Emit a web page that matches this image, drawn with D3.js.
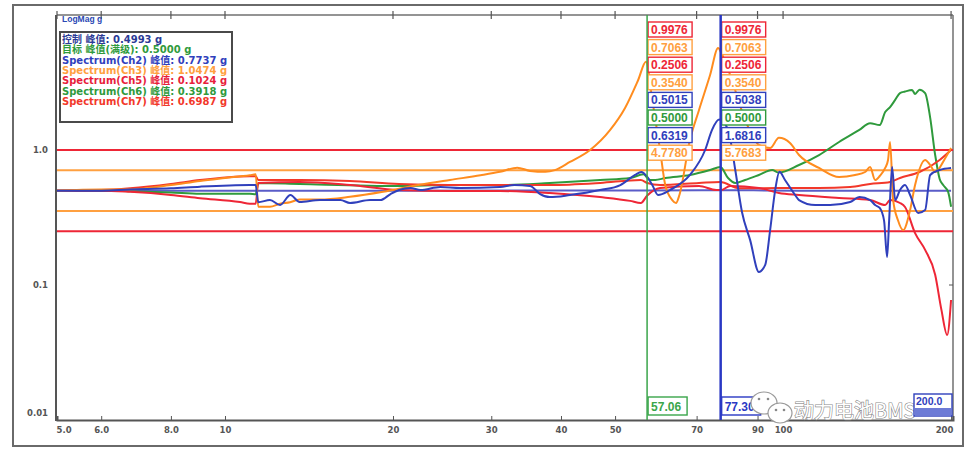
<!DOCTYPE html>
<html><head><meta charset="utf-8">
<script src="https://cdn.jsdelivr.net/npm/d3@7"></script>
<style>html,body{margin:0;padding:0;background:#fff;} svg{display:block;}</style>
</head><body>
<svg id="chart" width="969" height="453"></svg>
<script>
// ---------------- DATA ----------------
const xTicks = [5, 6, 8, 10, 20, 30, 40, 50, 70, 90, 100, 200];
const xTickLabels = ["5.0", "6.0", "8.0", "10", "20", "30", "40", "50", "70", "90", "100", "200"];
const yTicks = [1, 0.1, 0.01];
const yTickLabels = ["1.0", "0.1", "0.01"];

const limitValues = [1.0, 0.7079, 0.354, 0.25];
const limitNames = ["abortHigh", "alarmHigh", "alarmLow", "abortLow"];

const controlFreq = [5, 11.47, 20.5, 57.06, 77.3, 106.8, 200];
const controlValues = [0.5, 0.5, 0.5, 0.5015, 0.5038, 0.5, 0.5];

const ch3Freq = [5.0, 6.0, 6.76, 8.0, 9.02, 10, 11.08, 11.35, 11.47, 12.04, 12.55, 13.08, 13.6, 14.8, 16.75, 19.2, 22.2, 25.3, 28.7, 31.1, 33.4, 35.2, 37.5, 39.0, 41.5, 45.1, 49.0, 52.1, 55.0, 56.8, 58.3, 60.2, 61.5, 63.3, 64.3, 65.2, 68.1, 70.7, 74.0, 76.5, 77.4, 80.4, 85.5, 90.5, 94.8, 98.3, 102.9, 106.8, 116, 126, 134.6, 140.3, 143.2, 146.2, 149, 152.4, 154.2, 155.5, 157.5, 160.6, 164.1, 168.9, 172.4, 179.7, 183.5, 187.3, 195.2, 200];
const ch3Values = [0.50, 0.51, 0.51, 0.55, 0.59, 0.62, 0.65, 0.66, 0.38, 0.38, 0.40, 0.41, 0.43, 0.43, 0.45, 0.49, 0.55, 0.60, 0.65, 0.69, 0.74, 0.70, 0.69, 0.71, 0.815, 1.0, 1.41, 2.05, 3.30, 4.5, 2.35, 1.0, 0.55, 0.426, 0.405, 0.464, 1.19, 1.98, 3.59, 5.70, 5.3, 3.59, 1.67, 1.09, 1.035, 1.23, 1.127, 0.918, 0.736, 0.631, 0.653, 0.687, 0.748, 0.599, 0.642, 0.736, 0.843, 1.146, 0.426, 0.303, 0.255, 0.359, 0.55, 0.843, 0.774, 0.687, 0.87, 1.035];

const ch2Freq = [5, 6.0, 6.76, 8, 9.02, 11.08, 11.35, 11.47, 12.04, 12.55, 13.1, 13.6, 14.8, 16.1, 16.75, 18.2, 19.0, 19.8, 20.5, 21.5, 22.4, 24.3, 26.4, 31.1, 33.0, 35.2, 36.7, 38.2, 41.5, 47, 51.1, 54.3, 55.7, 57.1, 58.3, 59.7, 62.7, 68.1, 72.5, 74.6, 76.8, 79.7, 82.1, 84.4, 87.3, 90.5, 92.9, 94.8, 96.8, 98.5, 100.8, 105.1, 106.8, 114.2, 121.4, 131.9, 137, 143.2, 146.2, 149, 151.7, 153.6, 154.9, 156.8, 158.8, 162, 165.4, 168.9, 174.6, 179.7, 183.5, 190.8, 200];
const ch2Values = [0.50, 0.50, 0.51, 0.52, 0.535, 0.55, 0.55, 0.41, 0.426, 0.391, 0.464, 0.412, 0.426, 0.426, 0.405, 0.426, 0.426, 0.472, 0.505, 0.523, 0.505, 0.532, 0.523, 0.532, 0.55, 0.541, 0.472, 0.448, 0.464, 0.505, 0.55, 0.653, 0.687, 0.632, 0.55, 0.464, 0.505, 0.653, 1.0, 1.41, 1.68, 1.41, 0.711, 0.347, 0.215, 0.125, 0.141, 0.255, 0.505, 0.69, 0.60, 0.464, 0.426, 0.391, 0.391, 0.412, 0.448, 0.426, 0.391, 0.372, 0.30, 0.161, 0.30, 0.748, 0.426, 0.505, 0.55, 0.464, 0.341, 0.359, 0.653, 0.711, 0.736];

const ch6Freq = [5, 6, 6.76, 8, 9.02, 11.08, 11.35, 11.47, 13.6, 20.5, 25.3, 31.1, 38.2, 47, 53.2, 56.2, 57.7, 59.0, 61.5, 68.1, 74.0, 77.2, 79.7, 82.1, 85.5, 90.5, 95.6, 98.3, 106.8, 116, 126, 137, 143.2, 149, 152.4, 155.5, 158.8, 162, 165.4, 170.3, 172.4, 175.6, 179.7, 183.5, 187.3, 190.8, 193.6, 197.6, 200];
const ch6Values = [0.50, 0.50, 0.495, 0.485, 0.475, 0.475, 0.47, 0.57, 0.56, 0.541, 0.55, 0.55, 0.57, 0.60, 0.62, 0.66, 0.60, 0.60, 0.62, 0.653, 0.711, 0.748, 0.62, 0.57, 0.60, 0.653, 0.711, 0.68, 0.774, 0.918, 1.146, 1.41, 1.58, 1.53, 1.91, 2.08, 2.35, 2.64, 2.71, 2.78, 2.6, 2.8, 2.64, 1.73, 0.918, 0.61, 0.55, 0.49, 0.38];

const ch5Freq = [5, 6, 6.76, 8, 9.02, 10.64, 11.08, 11.35, 11.47, 13.6, 16.75, 20.5, 25.3, 31.1, 38.2, 47, 53.2, 55.6, 57.1, 60.2, 70.7, 75.9, 77.4, 80.4, 90.5, 98.3, 106.8, 126, 143.2, 152.4, 155.5, 162, 165.4, 172.4, 179.7, 187.3, 192.2, 196.8, 200];
const ch5Values = [0.50, 0.50, 0.49, 0.465, 0.44, 0.412, 0.40, 0.40, 0.57, 0.58, 0.55, 0.505, 0.497, 0.497, 0.48, 0.448, 0.42, 0.405, 0.46, 0.523, 0.541, 0.505, 0.505, 0.541, 0.523, 0.48, 0.464, 0.441, 0.426, 0.391, 0.426, 0.405, 0.378, 0.242, 0.182, 0.119, 0.0654, 0.0426, 0.0774];

const ch7Freq = [5, 6, 6.76, 8, 9.02, 11.08, 11.35, 11.47, 13.6, 16.75, 20.5, 25.3, 31.1, 38.2, 47, 55.6, 57.1, 60.2, 70.7, 77.2, 83.4, 98.3, 116, 131.9, 143.2, 155.5, 162, 175.6, 190.8, 200];
const ch7Values = [0.50, 0.505, 0.52, 0.56, 0.60, 0.64, 0.64, 0.60, 0.60, 0.589, 0.56, 0.55, 0.55, 0.55, 0.57, 0.60, 0.57, 0.55, 0.57, 0.58, 0.52, 0.523, 0.523, 0.532, 0.56, 0.58, 0.62, 0.687, 0.843, 1.0];

const legendLabels = ["控制 峰值: 0.4993 g", "目标 峰值(满级): 0.5000 g", "Spectrum(Ch2) 峰值: 0.7737 g", "Spectrum(Ch3) 峰值: 1.0474 g", "Spectrum(Ch5) 峰值: 0.1024 g", "Spectrum(Ch6) 峰值: 0.3918 g", "Spectrum(Ch7) 峰值: 0.6987 g"];

const cursorFreqs = [57.06, 77.3];
const cursorFreqLabels = ["57.06", "77.30"];
const cursor1Labels = ["0.9976", "0.7063", "0.2506", "0.3540", "0.5015", "0.5000", "0.6319", "4.7780"];
const cursor2Labels = ["0.9976", "0.7063", "0.2506", "0.3540", "0.5038", "0.5000", "1.6816", "5.7683"];
const endFreqLabel = "200.0";

// ---------------- STYLE ----------------
const C = {
  red: "#ee2636", orange: "#ff8c1e", orangeLt: "#ffa040", blue: "#3040bc", navy: "#2b3a96",
  green: "#2f9a3c", red2: "#f2382a", ctrl: "#5a5cc8", frame: "#5a5a5a"
};
const limitColors = [C.red, C.orangeLt, C.orangeLt, C.red];
const legendColors = [C.navy, C.green, C.blue, C.orangeLt, "#e81e3c", C.green, C.red2];
const boxColors = [C.red, C.orangeLt, C.red, C.orangeLt, C.blue, C.green, C.blue, C.orangeLt];
const cursorColors = ["#3aa54a", "#2a38c4"];

const svg = d3.select("#chart");
const x = d3.scaleLog().domain([5, 201.6]).range([57, 953]);
const y = d3.scaleLog().domain([0.01, 10]).range([420, 15]);
const X0 = 57, X1 = 953, Y0 = 15, Y1 = 420;

// outer frame
svg.append("rect").attr("x", 13).attr("y", 5).attr("width", 950).attr("height", 441)
  .attr("fill", "#fff").attr("stroke", "#6a6a6a").attr("stroke-width", 2);

svg.append("defs").append("clipPath").attr("id", "clip")
  .append("rect").attr("x", X0).attr("y", Y0).attr("width", X1 - X0).attr("height", Y1 - Y0);

// plot frame lines
svg.append("line").attr("x1", X0).attr("x2", X1).attr("y1", Y0).attr("y2", Y0).attr("stroke", "#707070").attr("stroke-width", 1.5);
svg.append("line").attr("x1", X1).attr("x2", X1).attr("y1", Y0).attr("y2", Y1).attr("stroke", "#707070").attr("stroke-width", 1.5);

// top ticks
svg.append("g").selectAll("line").data(xTicks).join("line")
  .attr("x1", d => x(d)).attr("x2", d => x(d)).attr("y1", 11).attr("y2", 19)
  .attr("stroke", "#555").attr("stroke-width", 1.2);

// x axis
const xAxis = d3.axisBottom(x).tickValues(xTicks).tickSize(-4).tickPadding(7)
  .tickFormat((d, i) => xTickLabels[i]);
const gx = svg.append("g").attr("transform", `translate(0,${Y1})`).call(xAxis);
gx.select(".domain").attr("stroke", "#555").attr("stroke-width", 2);
gx.selectAll(".tick line").attr("stroke", "#555");
gx.selectAll(".tick text").attr("font-family", "DejaVu Sans, sans-serif").attr("font-size", 8.5)
  .attr("fill", "#555").attr("font-weight", "bold");
gx.selectAll(".tick text").filter((d, i) => i === 0).attr("text-anchor", "start").attr("dx", -1);
gx.selectAll(".tick text").filter((d, i) => i === xTicks.length - 1).attr("dx", -7);

// left axis line + y labels
svg.append("line").attr("x1", X0 - 1).attr("x2", X0 - 1).attr("y1", Y0).attr("y2", Y1 + 1)
  .attr("stroke", "#555").attr("stroke-width", 2);
svg.append("g").selectAll("text").data(yTicks).join("text")
  .attr("x", 48).attr("y", (d, i) => y(d) + 3 - (i === yTicks.length - 1 ? 7 : 0))
  .attr("text-anchor", "end").attr("font-family", "DejaVu Sans, sans-serif").attr("font-size", 8.5)
  .attr("font-weight", "bold").attr("fill", "#555").text((d, i) => yTickLabels[i]);
svg.append("g").selectAll("line").data([1, 0.1]).join("line")
  .attr("x1", X1 - 4).attr("x2", X1).attr("y1", d => y(d)).attr("y2", d => y(d))
  .attr("stroke", "#555");

// title
svg.append("text").attr("x", 62).attr("y", 22).attr("font-family", "Liberation Sans, Arial, sans-serif")
  .attr("font-size", 8.5).attr("font-weight", "bold").attr("fill", "#2b48b4").text("LogMag g");

const plot = svg.append("g").attr("clip-path", "url(#clip)");

// cursor value boxes (under lines)
[cursor1Labels, cursor2Labels].forEach((labels, ci) => {
  const cx = x(cursorFreqs[ci]) + 1;
  const g = svg.append("g");
  labels.forEach((lab, i) => {
    const top = 22 + i * 17.6;
    g.append("rect").attr("x", cx).attr("y", top).attr("width", 44).attr("height", 15)
      .attr("fill", "#fff").attr("stroke", boxColors[i]).attr("stroke-width", 1.4);
    g.append("text").attr("x", cx + 3).attr("y", top + 12)
      .attr("font-family", "Liberation Sans, Arial, sans-serif").attr("font-size", 12).attr("font-weight", "bold")
      .attr("fill", boxColors[i]).text(lab);
  });
});

// limit lines
plot.append("g").selectAll("line").data(limitValues).join("line")
  .attr("x1", X0).attr("x2", X1).attr("y1", d => y(d)).attr("y2", d => y(d))
  .attr("stroke", (d, i) => limitColors[i]).attr("stroke-width", 2);

const line = d3.line().x(d => x(d[0])).y(d => y(d[1])).curve(d3.curveMonotoneX);
const zip = (f, v) => f.map((ff, i) => [ff, v[i]]);

// control / target
plot.append("path").datum(zip(controlFreq, controlValues)).attr("d", line)
  .attr("fill", "none").attr("stroke", C.ctrl).attr("stroke-width", 2);

const series = [
  { f: ch6Freq, v: ch6Values, c: C.green },
  { f: ch7Freq, v: ch7Values, c: C.red2 },
  { f: ch5Freq, v: ch5Values, c: C.red },
  { f: ch3Freq, v: ch3Values, c: C.orange },
  { f: ch2Freq, v: ch2Values, c: C.blue }
];
series.forEach(s => {
  plot.append("path").datum(zip(s.f, s.v)).attr("d", line)
    .attr("fill", "none").attr("stroke", s.c).attr("stroke-width", 2).attr("stroke-linejoin", "round");
});

// cursor lines
cursorFreqs.forEach((f, i) => {
  svg.append("line").attr("x1", x(f)).attr("x2", x(f)).attr("y1", Y0).attr("y2", Y1)
    .attr("stroke", cursorColors[i]).attr("stroke-width", i === 0 ? 1.5 : 2.5);
});

// cursor frequency boxes
cursorFreqs.forEach((f, i) => {
  const cx = x(f) + 1;
  svg.append("rect").attr("x", cx).attr("y", 397).attr("width", 39).attr("height", 18)
    .attr("fill", "#fff").attr("stroke", cursorColors[i]).attr("stroke-width", 1.4);
  svg.append("text").attr("x", cx + 3).attr("y", 411)
    .attr("font-family", "Liberation Sans, Arial, sans-serif").attr("font-size", 12).attr("font-weight", "bold")
    .attr("fill", cursorColors[i]).text(cursorFreqLabels[i]);
});

// watermark
const wm = svg.append("g");
wm.append("ellipse").attr("cx", 764).attr("cy", 403).attr("rx", 13).attr("ry", 11)
  .attr("fill", "#fff").attr("stroke", "#9a9a9a").attr("stroke-width", 1.2);
wm.append("ellipse").attr("cx", 780).attr("cy", 413).attr("rx", 12).attr("ry", 10)
  .attr("fill", "#fff").attr("stroke", "#9a9a9a").attr("stroke-width", 1.2);
[[759, 399], [768, 399], [776, 410], [784, 410]].forEach(p =>
  wm.append("circle").attr("cx", p[0]).attr("cy", p[1]).attr("r", 1.3).attr("fill", "#888"));
wm.append("text").attr("x", 794).attr("y", 418).attr("font-family", "'Noto Sans CJK SC', sans-serif")
  .attr("font-size", 20).attr("fill", "#fff").attr("stroke", "#8a8a8a").attr("stroke-width", 1.2)
  .attr("paint-order", "stroke").text("动力电池BMS");

// end frequency box
svg.append("rect").attr("x", 914).attr("y", 394).attr("width", 38).attr("height", 22)
  .attr("fill", "#fff").attr("stroke", C.blue).attr("stroke-width", 1.4);
svg.append("rect").attr("x", 915).attr("y", 408).attr("width", 36).attr("height", 7.5)
  .attr("fill", "#6d7bd6");
svg.append("text").attr("x", 916).attr("y", 405).attr("font-family", "Liberation Sans, Arial, sans-serif")
  .attr("font-size", 10.5).attr("font-weight", "bold").attr("fill", C.blue).text(endFreqLabel);

// legend
const lg = svg.append("g");
lg.append("rect").attr("x", 60).attr("y", 32).attr("width", 172).attr("height", 90)
  .attr("fill", "#fff").attr("stroke", "#4a4a4a").attr("stroke-width", 2);
lg.selectAll("text").data(legendLabels).join("text")
  .attr("x", 62).attr("y", (d, i) => 43 + i * 10.35)
  .attr("font-family", "DejaVu Sans, 'Noto Sans CJK SC', sans-serif").attr("font-size", 10).attr("font-weight", "bold")
  .attr("fill", (d, i) => legendColors[i]).text(d => d);
</script></body></html>
